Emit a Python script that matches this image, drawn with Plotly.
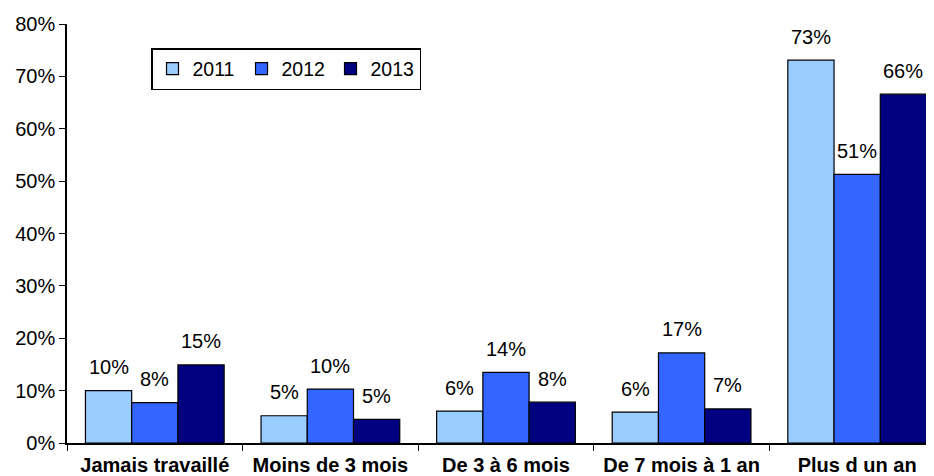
import plotly.graph_objects as go

categories = ["Jamais travaillé", "Moins de 3 mois", "De 3 à 6 mois", "De 7 mois à 1 an", "Plus d un an"]
years = ["2011", "2012", "2013"]
v2011 = [10.0, 5.2, 6.1, 5.9, 73.1]
v2012 = [7.7, 10.3, 13.5, 17.2, 51.3]
v2013 = [14.9, 4.5, 7.8, 6.5, 66.6]
labels2011 = ["10%", "5%", "6%", "6%", "73%"]
labels2012 = ["8%", "10%", "14%", "17%", "51%"]
labels2013 = ["15%", "5%", "8%", "7%", "66%"]
colors = ["#99CCFF", "#3366FF", "#000080"]
yticks = [0, 10, 20, 30, 40, 50, 60, 70, 80]

series = [v2011, v2012, v2013]
labels = [labels2011, labels2012, labels2013]
FONT = "Liberation Sans, Arial, sans-serif"
bargap = 0.21

fig = go.Figure()
for yr, vals, col in zip(years, series, colors):
    fig.add_trace(go.Bar(name=yr, x=categories, y=vals, marker=dict(color=col, line=dict(color="black", width=1.2))))

bw = (1 - bargap) / 3
for i, (vals, labs) in enumerate(zip(series, labels)):
    for j, (v, t) in enumerate(zip(vals, labs)):
        fig.add_annotation(x=j + (i - 1) * bw, y=v, text=t, showarrow=False, xref="x", yref="y",
                           yanchor="bottom", yshift=10.5, font=dict(family=FONT, size=20, color="black"))

# page body has an 8px default margin, so the figure is offset by 8px
fig.update_layout(
    width=926, height=468,
    margin=dict(l=59, r=0, t=16, b=33),
    paper_bgcolor="white", plot_bgcolor="white",
    barmode="group", bargap=bargap, bargroupgap=0,
    font=dict(family=FONT, size=20, color="black"),
    showlegend=True,
    legend=dict(orientation="h", x=0.0969, y=0.9427, xanchor="left", yanchor="top",
                bordercolor="black", borderwidth=1.5, bgcolor="white",
                font=dict(family=FONT, size=19.5, color="black"), itemwidth=30, entrywidth=44),
    xaxis=dict(type="category", range=[-0.5, 4.4375], showline=True, linecolor="black", linewidth=1.5,
               ticks="outside", tickson="boundaries", ticklen=6, tickcolor="black", automargin=False,
               ticklabelstandoff=3,
               tickfont=dict(family=FONT, size=20, color="black", weight="bold"), showgrid=False),
    yaxis=dict(range=[0, 80], tickvals=yticks, ticktext=[f"{t}%" for t in yticks], showline=True,
               linecolor="black", linewidth=1.5, ticks="outside", ticklen=6, tickcolor="black",
               automargin=False, showgrid=False, zeroline=False,
               tickfont=dict(family=FONT, size=20, color="black")),
)
fig.write_html("out.html")
